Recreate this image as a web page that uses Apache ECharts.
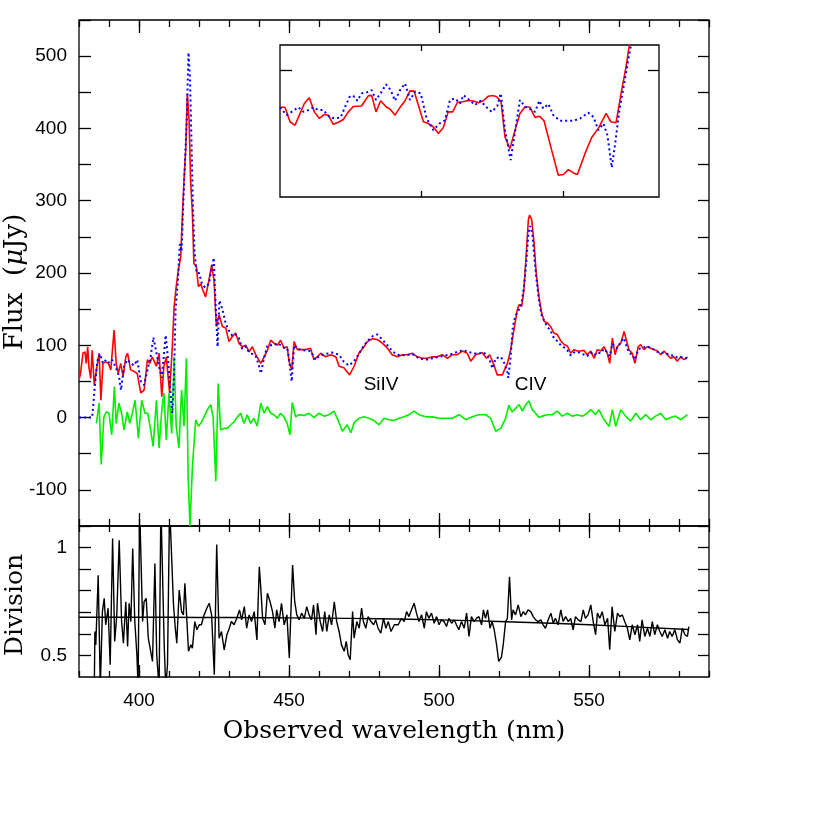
<!DOCTYPE html>
<html><head><meta charset="utf-8">
<script src="https://cdn.jsdelivr.net/npm/echarts@6/dist/echarts.min.js"></script>
<style>html,body{margin:0;padding:0;background:#fff}#c{width:830px;height:830px}</style>
</head><body><div id="c"></div>
<script>
// ---------- DATA ----------
// wavelength (nm), flux (uJy)
const redSpectrum = [
[380.2,55],[380.6,64],[381.3,89],[382.0,91],[382.4,75],[382.9,98],[383.3,70],[383.9,54],[384.4,93],[385.1,45],
[385.8,66],[386.7,89],[387.3,24],[388.0,75],[388.9,77],[389.8,75],[390.6,66],[391.7,121],[392.4,75],[393.1,61],
[393.9,75],[394.7,57],[395.6,84],[396.2,89],[397.2,66],[398.3,64],[399.4,61],[400.6,34],[401.7,38],[402.8,80],
[403.6,75],[404.4,84],[405.8,71],[406.7,89],[407.6,29],[408.3,71],[409.1,84],[410.2,34],[411.1,98],[411.7,153],
[412.4,181],[413.1,204],[413.9,222],[414.4,273],[415.0,328],[415.6,374],[416.1,448],[416.7,411],[417.2,328],[417.8,282],
[418.3,213],[419.1,209],[419.8,181],[420.6,185],[421.3,176],[422.2,167],[423.3,190],[424.2,211],[425.0,190],[425.8,126],
[426.7,142],[427.8,126],[428.9,124],[430.0,105],[431.1,112],[432.2,117],[433.3,103],[434.4,98],[435.6,100],[436.7,91],
[437.8,98],[438.9,87],[440.6,75],[441.7,84],[442.8,93],[443.9,107],[445.0,103],[446.1,100],[447.2,107],[448.3,96],
[449.4,98],[450.0,78],[450.9,66],[451.7,105],[452.8,94],[453.9,94],[455.6,94],[457.2,96],[458.3,80],[459.4,84],
[460.6,89],[462.2,84],[463.9,87],[465.6,84],[466.7,71],[468.3,69],[470.2,59],[471.7,71],[473.3,89],[475.0,98],
[476.1,105],[477.8,109],[479.4,108],[481.1,103],[482.8,96],[484.4,87],[486.1,84],[487.8,87],[489.4,87],[491.1,89],
[492.8,84],[494.4,82],[496.1,82],[497.8,84],[499.4,84],[501.1,87],[502.8,82],[504.4,87],[506.1,87],[507.8,92],
[509.4,89],[510.6,78],[512.2,87],[514.4,90],[515.8,82],[516.9,87],[518.3,73],[519.4,59],[521.1,59],[522.8,75],
[523.9,94],[525.0,122],[526.1,149],[526.7,156],[527.6,154],[528.3,177],[529.1,228],[529.8,274],[530.2,280],[530.9,274],
[531.7,241],[532.4,200],[533.3,168],[534.2,145],[535.1,133],[536.1,131],[537.2,126],[538.3,117],[539.4,115],[540.6,106],
[541.7,101],[542.8,99],[543.9,89],[545.0,94],[546.1,92],[547.2,92],[548.3,93],[549.4,87],[550.6,92],[551.7,82],
[552.8,94],[553.9,92],[555.0,98],[556.1,89],[556.9,75],[557.8,110],[558.7,87],[559.4,98],[560.6,103],[561.7,119],
[562.4,108],[563.3,94],[564.4,89],[565.3,75],[566.4,98],[567.2,101],[568.3,94],[569.4,98],[570.6,96],[571.7,94],
[572.8,92],[573.9,87],[575.0,92],[576.1,87],[577.2,82],[578.3,84],[579.4,78],[580.6,84],[581.7,80],[582.8,84]
];
const blueSpectrum = [
[380.0,0],[384.4,0],[385.2,40],[386.1,78],[387.0,88],[388.0,75],[389.0,80],[390.0,76],[391.0,80],[392.2,70],
[393.3,58],[394.0,38],[395.0,70],[396.0,80],[397.2,76],[398.3,72],[399.4,80],[400.6,50],[401.7,45],[402.8,65],
[403.9,85],[404.8,111],[405.8,90],[406.7,70],[407.6,55],[408.9,114],[409.7,80],[410.6,30],[411.1,6],[411.7,60],
[412.2,150],[413.0,190],[413.6,240],[414.2,230],[414.8,300],[415.4,360],[415.9,410],[416.5,505],[417.0,470],[417.5,380],
[418.0,290],[418.5,230],[419.2,200],[420.0,200],[421.0,185],[422.0,180],[423.3,185],[424.2,205],[424.9,221],[425.6,150],
[426.2,98],[426.8,162],[427.8,150],[428.9,130],[430.0,120],[431.1,113],[432.2,115],[433.3,110],[434.4,95],[435.6,98],
[436.7,90],[437.8,88],[438.9,85],[440.0,72],[440.6,61],[441.7,82],[442.8,100],[443.9,100],[445.0,100],[446.1,103],
[447.2,100],[448.3,97],[449.4,96],[450.0,82],[450.9,50],[451.7,100],[452.8,95],[455.0,93],[457.2,92],[458.9,80],
[460.0,85],[462.2,88],[464.4,90],[466.7,87],[468.3,77],[470.0,72],[471.7,78],[473.3,88],[475.0,100],[476.7,108],
[478.0,113],[479.4,115],[481.1,108],[482.8,100],[484.4,92],[486.1,87],[488.9,86],[491.1,88],[493.3,82],[495.6,80],
[497.8,82],[500.0,84],[502.2,86],[504.4,88],[506.7,92],[508.3,93],[510.6,90],[512.8,88],[515.0,90],[516.7,82],
[517.8,68],[518.9,82],[520.6,84],[521.7,76],[522.8,63],[523.1,55],[523.9,85],[524.6,125],[525.4,140],[526.7,150],
[527.6,160],[528.3,180],[529.1,215],[529.8,255],[530.4,265],[531.1,255],[531.7,225],[532.4,195],[533.3,163],[534.2,142],
[535.1,133],[536.1,126],[537.2,120],[538.3,110],[539.4,106],[540.6,100],[541.7,97],[542.8,93],[543.9,86],[545.0,90],
[546.1,91],[547.2,89],[548.3,87],[549.4,85],[550.6,90],[551.7,86],[552.8,90],[553.9,89],[555.0,95],[556.1,90],
[556.9,85],[557.8,102],[558.7,97],[559.4,96],[560.6,105],[561.7,110],[562.4,100],[563.3,90],[564.4,87],[565.3,80],
[566.4,94],[567.2,96],[568.3,97],[569.4,99],[570.6,96],[571.7,94],[572.8,91],[573.9,90],[575.0,89],[576.1,88],
[577.2,86],[578.3,86],[579.4,83],[580.6,84],[581.7,82],[582.8,82]
];
const greenResidual = [
[385.8,-8],[386.7,20],[387.4,-65],[388.3,1],[389.1,8],[390.0,6],[390.9,-24],[391.8,43],[392.4,-8],[393.3,20],
[394.2,6],[395.0,-17],[396.1,8],[396.9,-8],[397.8,6],[398.7,24],[399.8,-29],[400.9,24],[402.0,6],[402.9,6],
[403.9,-17],[404.7,-40],[405.8,24],[406.7,-42],[407.6,11],[408.3,34],[409.1,-31],[410.0,34],[410.9,-22],[411.7,84],
[412.4,-12],[413.3,-42],[414.2,38],[415.0,-12],[415.8,82],[416.4,-86],[417.0,-150],[417.8,-68],[418.9,-3],[419.8,-12],
[420.6,-8],[421.7,1],[422.8,11],[423.9,18],[424.7,1],[425.6,-88],[426.4,47],[427.2,-17],[428.3,-15],[429.4,-15],
[430.6,-10],[431.7,-6],[432.8,1],[433.9,6],[435.0,-8],[436.1,4],[437.2,-8],[438.3,-1],[439.4,-12],[440.6,20],
[441.7,6],[442.8,15],[443.9,6],[445.0,4],[446.1,-1],[447.2,6],[448.3,1],[449.4,-8],[450.3,-24],[451.1,21],
[452.2,1],[453.3,4],[455.0,3],[456.7,6],[458.3,0],[460.0,6],[461.7,2],[463.3,4],[465.0,9],[466.7,-7],
[467.8,-19],[469.4,-10],[470.6,-21],[471.7,-7],[473.3,-1],[475.0,1],[476.7,-1],[478.3,-4],[480.0,-10],[481.7,-1],
[483.3,-3],[485.0,-4],[486.7,-1],[488.3,1],[490.0,4],[491.7,9],[493.3,4],[495.6,1],[497.8,1],[500.0,-1],
[502.2,-1],[504.4,-1],[506.7,4],[508.9,-3],[511.1,1],[513.3,4],[515.6,4],[517.2,-1],[518.9,-19],[520.6,-15],
[522.2,-1],[523.3,17],[524.4,8],[525.6,13],[526.7,18],[527.8,9],[528.9,18],[530.0,23],[531.1,11],[532.2,6],
[533.3,0],[534.4,2],[536.1,4],[537.8,4],[539.4,9],[541.1,2],[542.8,6],[544.4,2],[546.1,4],[547.8,2],
[549.4,6],[550.6,11],[552.2,4],[553.3,11],[555.0,-3],[556.7,-12],[557.8,11],[558.9,-12],[560.6,11],[562.2,2],
[563.9,-5],[565.6,6],[567.2,-3],[568.9,4],[570.6,-3],[572.2,2],[573.9,6],[575.6,-3],[577.2,0],[578.9,2],
[580.6,-3],[582.8,4]
];
// ratio (off-scale values exceed the panel and are clipped)
const division = [
[385.1,0.35],[385.3,0.611],[385.6,0.549],[386.4,0.872],[387.1,0.35],[387.8,0.703],[388.4,0.765],[388.9,0.642],[389.7,0.719],[390.4,0.457],
[391.2,1.042],[391.9,0.565],[392.6,0.688],[393.4,1.034],[394.2,0.657],[394.8,0.557],[395.6,0.749],[396.2,0.542],[396.7,0.742],[397.3,0.657],
[397.9,0.996],[398.6,0.657],[399.3,0.503],[399.7,0.35],[400.2,1.2],[400.7,1.2],[401.2,0.657],[401.7,0.749],[402.4,0.765],[403.1,0.58],
[403.7,0.534],[404.5,0.472],[405.3,0.926],[405.9,0.503],[406.7,0.35],[407.3,1.2],[407.9,1.2],[408.4,0.549],[408.9,0.35],[409.5,0.457],
[410.2,1.2],[410.8,1.2],[411.5,0.734],[412.1,0.626],[412.6,0.557],[413.4,0.803],[414.2,0.703],[414.8,0.688],[415.3,0.834],[415.8,0.703],
[416.5,0.519],[417.3,0.549],[417.8,0.534],[418.6,0.657],[419.3,0.619],[420.1,0.642],[420.8,0.642],[421.7,0.688],[422.6,0.719],[423.4,0.742],
[424.2,0.688],[425.1,0.411],[425.9,1.014],[426.7,0.58],[427.5,0.611],[428.4,0.526],[429.3,0.596],[430.1,0.626],[430.8,0.657],[431.7,0.642],
[432.6,0.672],[433.5,0.711],[434.2,0.665],[435.1,0.726],[435.9,0.626],[436.7,0.688],[437.5,0.657],[438.4,0.703],[439.3,0.572],[440.1,0.911],
[440.6,0.811],[441.2,0.672],[442.0,0.642],[442.8,0.788],[443.7,0.749],[444.5,0.703],[445.3,0.626],[445.9,0.711],[446.7,0.657],[447.5,0.742],
[448.4,0.642],[449.3,0.688],[450.1,0.488],[450.6,0.688],[451.2,0.919],[451.9,0.749],[452.6,0.688],[453.4,0.665],[454.2,0.696],[455.1,0.672],
[455.9,0.726],[456.7,0.688],[457.5,0.665],[458.2,0.734],[459.0,0.596],[459.5,0.742],[460.4,0.657],[461.2,0.611],[461.9,0.703],[462.6,0.611],
[463.4,0.688],[464.2,0.642],[465.1,0.749],[465.9,0.657],[466.7,0.611],[467.5,0.549],[468.4,0.519],[469.1,0.565],[469.7,0.503],[470.4,0.48],
[471.2,0.703],[471.7,0.58],[472.6,0.657],[473.4,0.626],[474.2,0.719],[474.8,0.657],[475.6,0.626],[476.4,0.68],[477.3,0.657],[478.2,0.642],
[478.9,0.665],[479.7,0.626],[480.6,0.603],[481.5,0.672],[482.3,0.626],[483.1,0.657],[484.0,0.611],[485.1,0.642],[486.4,0.642],[487.5,0.672],
[488.4,0.657],[489.2,0.703],[490.0,0.68],[490.8,0.711],[491.7,0.742],[492.5,0.696],[493.3,0.657],[494.2,0.688],[495.1,0.626],[495.8,0.703],
[496.6,0.672],[497.5,0.696],[498.4,0.649],[499.2,0.68],[500.0,0.642],[500.8,0.665],[501.7,0.657],[502.5,0.634],[503.3,0.672],[504.2,0.649],
[505.1,0.665],[505.8,0.642],[506.6,0.619],[507.5,0.657],[508.4,0.626],[509.2,0.696],[510.0,0.588],[510.8,0.68],[511.7,0.657],[512.5,0.672],
[513.3,0.68],[514.2,0.642],[514.8,0.711],[515.5,0.672],[516.2,0.711],[517.0,0.626],[517.7,0.657],[518.4,0.619],[519.2,0.549],[519.9,0.472],
[520.8,0.491],[521.4,0.549],[522.2,0.657],[522.8,0.672],[523.5,0.865],[524.2,0.665],[524.7,0.711],[525.5,0.688],[526.4,0.734],[527.3,0.68],
[528.1,0.703],[528.8,0.688],[529.7,0.711],[530.6,0.703],[531.4,0.68],[532.2,0.665],[533.1,0.657],[533.9,0.665],[534.7,0.642],[535.5,0.626],
[536.4,0.665],[537.3,0.696],[538.1,0.649],[538.8,0.672],[539.7,0.642],[540.6,0.711],[541.4,0.657],[542.2,0.68],[543.1,0.657],[543.9,0.672],
[544.7,0.619],[545.5,0.68],[546.4,0.665],[547.3,0.657],[548.1,0.711],[548.8,0.672],[549.7,0.688],[550.6,0.734],[551.4,0.657],[552.2,0.596],
[552.8,0.696],[553.6,0.672],[554.4,0.703],[555.3,0.642],[556.2,0.672],[556.9,0.526],[557.7,0.726],[558.6,0.611],[559.5,0.696],[560.3,0.68],
[561.1,0.688],[561.9,0.657],[562.8,0.626],[563.6,0.572],[564.4,0.642],[565.3,0.596],[566.2,0.642],[566.9,0.565],[567.7,0.665],[568.6,0.588],
[569.5,0.626],[570.3,0.588],[571.1,0.657],[571.9,0.596],[572.8,0.642],[573.6,0.611],[574.4,0.588],[575.3,0.619],[576.2,0.58],[576.9,0.611],
[577.7,0.588],[578.6,0.619],[579.5,0.572],[580.3,0.557],[581.1,0.626],[582.0,0.596],[582.8,0.588],[583.3,0.634]
];
const fitCurve = [
[380,0.677],[400,0.677],[420,0.676],[440,0.675],[460,0.673],[480,0.670],[500,0.665],[520,0.657],[540,0.648],[560,0.636],[583,0.620]
];
// inset (arbitrary zoomed units)
const insetRed = [
[0,3.54],[0.35,3.54],[0.71,2.97],[1.06,2.83],[1.37,3.23],[1.72,3.69],[2.07,3.92],[2.43,3.36],[2.78,3.10],[3.14,3.26],
[3.42,3.23],[3.77,2.87],[4.13,2.95],[4.48,3.06],[4.83,3.36],[5.19,3.57],[5.77,3.59],[6.25,4.00],[6.48,4.01],[6.79,3.36],
[7.12,3.80],[7.50,3.56],[7.78,3.47],[8.13,3.23],[8.49,3.54],[8.84,3.80],[9.19,4.19],[9.48,4.18],[9.78,3.63],[10.14,2.97],
[10.49,2.90],[10.84,2.77],[11.20,2.51],[11.55,2.74],[11.90,3.36],[12.21,3.36],[12.54,3.73],[12.92,3.76],[13.32,3.81],[13.67,3.79],
[14.03,3.72],[14.38,3.80],[14.73,3.98],[15.04,4.01],[15.32,3.96],[15.63,3.76],[15.91,2.37],[16.26,1.91],[16.62,2.64],[16.97,3.30],
[17.33,3.56],[17.68,3.54],[18.03,3.14],[18.34,3.19],[18.67,3.01],[19.21,1.85],[19.68,0.86],[20.04,0.89],[20.39,1.08],[20.75,0.95],
[21.03,0.89],[21.57,1.72],[22.04,2.35],[22.51,2.71],[23.06,3.30],[23.39,2.97],[23.76,2.93],[24.16,4.22],[24.47,5.14],[24.70,6.0],[24.85,6.6]
];
const insetBlue = [
[0,3.54],[0.47,3.23],[0.82,3.36],[1.30,3.54],[1.65,3.36],[2.00,3.43],[2.36,3.54],[2.71,3.43],[3.07,3.43],[3.49,3.16],
[3.89,3.10],[4.29,3.14],[4.60,3.56],[4.95,3.99],[5.30,3.96],[5.47,3.80],[5.77,4.09],[6.13,4.13],[6.48,4.22],[6.79,3.83],
[7.19,4.16],[7.50,4.45],[7.83,4.22],[8.13,3.80],[8.49,4.22],[8.84,4.48],[9.19,3.83],[9.55,4.16],[9.95,4.09],[10.37,3.10],
[10.84,2.64],[11.27,2.90],[11.67,3.03],[12.02,3.83],[12.38,3.89],[12.73,3.69],[12.97,4.02],[13.39,3.83],[13.79,3.63],[14.19,3.80],
[14.57,3.56],[14.97,3.36],[15.37,3.59],[15.61,4.09],[15.91,2.64],[16.31,1.46],[16.69,2.83],[16.97,3.83],[17.33,3.56],[17.68,3.47],
[18.03,3.36],[18.34,3.80],[18.62,3.49],[18.98,3.67],[19.33,3.23],[19.80,3.01],[20.27,3.01],[20.75,3.01],[21.22,3.10],[21.80,3.33],
[22.16,3.16],[22.51,2.64],[22.87,2.90],[23.15,2.44],[23.46,1.16],[23.70,2.11],[24.00,3.43],[24.34,4.48],[24.64,5.47],[24.80,5.94],[24.95,6.5]
];
const lineLabels = [{name:'SiIV', value:[480.7,46]}, {name:'CIV', value:[530.5,46]}];
const xLabelValues = [400,450,500,550];
const fluxLabelValues = [-100,0,100,200,300,400,500];
const divisionLabelValues = [0.5,1];

// ---------- CHART ----------
const chart = echarts.init(document.getElementById('c'), null, {renderer:'canvas'});
const minorX = []; for (let v = 380; v <= 590; v += 10) minorX.push(v);
const tickStyle = {color:'#000', width:1.3};
const numFont = {fontFamily:'"Liberation Sans", Arial, sans-serif', fontSize:19, color:'#000'};
const noLine = {show:false, onZero:false};

function xAx(grid, pos, ticks, len, showLabels) {
  return {
    type:'value', gridIndex:grid, position:pos, min:380, max:590,
    axisLine:noLine, splitLine:{show:false},
    axisTick:{show:true, inside:true, length:len, customValues:ticks, lineStyle:tickStyle},
    axisLabel: showLabels ? Object.assign({show:true, margin:14, customValues:xLabelValues}, numFont) : {show:false}
  };
}
const xAxes = [
  xAx(0,'bottom',xLabelValues,13,false), xAx(0,'bottom',minorX,7,false),
  xAx(0,'top',xLabelValues,13,false), xAx(0,'top',minorX,7,false),
  xAx(1,'bottom',xLabelValues,12,true), xAx(1,'bottom',minorX,6,false),
  xAx(1,'top',xLabelValues,12,false), xAx(1,'top',minorX,6,false),
  {type:'value', gridIndex:2, position:'bottom', min:0, max:26.8, axisLine:noLine, splitLine:{show:false},
   axisTick:{show:true, inside:true, length:6, customValues:[10,20], lineStyle:tickStyle}, axisLabel:{show:false}},
  {type:'value', gridIndex:2, position:'top', min:0, max:26.8, axisLine:noLine, splitLine:{show:false},
   axisTick:{show:true, inside:true, length:6, customValues:[10,20], lineStyle:tickStyle}, axisLabel:{show:false}}
];
const fluxTicks = []; for (let v = -150; v <= 550; v += 50) fluxTicks.push(v);
const divTicks = [0.5,0.6,0.7,0.8,0.9,1.0];
const yAxes = [
  {type:'value', gridIndex:0, position:'left', min:-150, max:550,
   axisLine:noLine, splitLine:{show:false},
   axisTick:{show:true, inside:true, length:12, customValues:fluxTicks, lineStyle:tickStyle},
   axisLabel:Object.assign({show:true, margin:12, customValues:fluxLabelValues}, numFont)},
  {type:'value', gridIndex:0, position:'right', min:-150, max:550,
   axisLine:noLine, splitLine:{show:false},
   axisTick:{show:true, inside:true, length:11, customValues:fluxTicks, lineStyle:tickStyle}, axisLabel:{show:false}},
  {type:'value', gridIndex:1, position:'left', min:0.4, max:1.1,
   axisLine:noLine, splitLine:{show:false},
   axisTick:{show:true, inside:true, length:12, customValues:divTicks, lineStyle:tickStyle},
   axisLabel:Object.assign({show:true, margin:12, customValues:divisionLabelValues,
     formatter:v => (Math.abs(v-1)<1e-6 ? '1' : String(v))}, numFont)},
  {type:'value', gridIndex:1, position:'right', min:0.4, max:1.1,
   axisLine:noLine, splitLine:{show:false},
   axisTick:{show:true, inside:true, length:11, customValues:divTicks, lineStyle:tickStyle}, axisLabel:{show:false}},
  {type:'value', gridIndex:2, position:'left', min:0, max:6,
   axisLine:noLine, splitLine:{show:false},
   axisTick:{show:true, inside:true, length:12, customValues:[5], lineStyle:tickStyle}, axisLabel:{show:false}},
  {type:'value', gridIndex:2, position:'right', min:0, max:6,
   axisLine:noLine, splitLine:{show:false},
   axisTick:{show:true, inside:true, length:11, customValues:[5], lineStyle:tickStyle}, axisLabel:{show:false}}
];

const serif = '"DejaVu Serif", "Liberation Serif", serif';
const option = {
  animation:false,
  backgroundColor:'#fff',
  grid:[
    {left:79, top:20, width:630, height:506, show:true, borderColor:'#000', borderWidth:1.3, backgroundColor:'transparent'},
    {left:79, top:526, width:630, height:151, show:true, borderColor:'#000', borderWidth:1.3, backgroundColor:'transparent'},
    {left:280, top:45, width:379, height:152, show:true, borderColor:'#000', borderWidth:1.3, backgroundColor:'#fff'}
  ],
  xAxis:xAxes,
  yAxis:yAxes,
  series:[
    {type:'line', xAxisIndex:0, yAxisIndex:0, data:redSpectrum, showSymbol:false, z:3,
     lineStyle:{color:'#ff0000', width:1.6}},
    {type:'line', xAxisIndex:0, yAxisIndex:0, data:blueSpectrum, showSymbol:false, z:4,
     lineStyle:{color:'#0000ff', width:2, type:[2,3]}},
    {type:'line', xAxisIndex:0, yAxisIndex:0, data:greenResidual, showSymbol:false, z:3,
     lineStyle:{color:'#00ee00', width:1.6}},
    {type:'scatter', xAxisIndex:0, yAxisIndex:0, data:lineLabels, symbol:'circle', symbolSize:2,
     itemStyle:{color:'rgba(0,0,0,0)'}, z:5, silent:true,
     label:{show:true, position:'inside', formatter:'{b}', color:'#000', opacity:1,
            textBorderWidth:0, textShadowBlur:0,
            fontFamily:'"Liberation Sans", Arial, sans-serif', fontSize:19}},
    {type:'line', xAxisIndex:4, yAxisIndex:2, data:division, showSymbol:false,
     lineStyle:{color:'#000', width:1.4}},
    {type:'line', xAxisIndex:4, yAxisIndex:2, data:fitCurve, showSymbol:false, smooth:true,
     lineStyle:{color:'#000', width:1.4}},
    {type:'line', xAxisIndex:8, yAxisIndex:4, data:insetRed, showSymbol:false, z:3,
     lineStyle:{color:'#ff0000', width:1.6}},
    {type:'line', xAxisIndex:8, yAxisIndex:4, data:insetBlue, showSymbol:false, z:4,
     lineStyle:{color:'#0000ff', width:2, type:[2,3]}}
  ],
  graphic:[
    {type:'text', x:394, y:731, z:10,
     style:{text:'Observed wavelength (nm)', font:'25px ' + serif, fill:'#000',
            align:'center', verticalAlign:'middle', textAlign:'center', textVerticalAlign:'middle'}},
    {type:'text', x:15, y:282, rotation:Math.PI/2, z:10,
     style:{text:'{a|Flux  (}{b|μ}{a|Jy)}', fill:'#000',
            align:'center', verticalAlign:'middle', textAlign:'center', textVerticalAlign:'middle',
            rich:{a:{fontFamily:'DejaVu Serif', fontSize:26, fill:'#000', color:'#000'},
                  b:{fontFamily:'DejaVu Serif', fontStyle:'italic', fontSize:26, fill:'#000', color:'#000'}}}},
    {type:'text', x:15, y:605, rotation:Math.PI/2, z:10,
     style:{text:'Division', font:'25px ' + serif, fill:'#000',
            align:'center', verticalAlign:'middle', textAlign:'center', textVerticalAlign:'middle'}}
  ]
};
chart.setOption(option);
</script>
</body></html>
